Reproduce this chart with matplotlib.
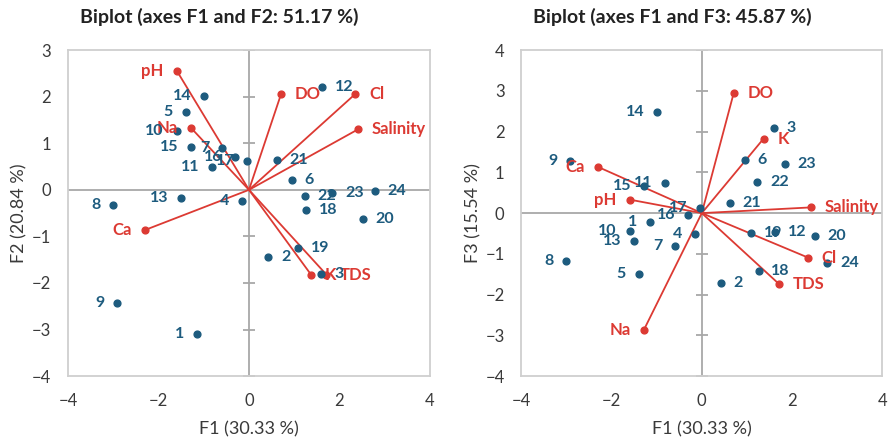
import matplotlib
matplotlib.use("Agg")
import matplotlib.pyplot as plt
import numpy as np

plt.rcParams['font.family'] = ['Lato', 'DejaVu Sans']

# observations (sites 1..24)
obs = [str(i) for i in range(1, 25)]
obs_f1 = [-1.15, 0.43, 1.60, -0.16, -1.40, 0.95, -0.59, -3.00, -2.92, -1.60, -0.82, 1.62,
          -1.51, -0.99, -1.28, -0.30, -0.04, 1.26, 1.09, 2.51, 0.62, 1.23, 1.84, 2.78]
obs_f2 = [-3.09, -1.44, -1.81, -0.25, 1.68, 0.21, 0.89, -0.33, -2.43, 1.27, 0.50, 2.21,
          -0.18, 2.02, 0.93, 0.70, 0.63, -0.43, -1.25, -0.62, 0.64, -0.13, -0.07, -0.03]
obs_f3 = [-0.22, -1.72, 2.10, -0.51, -1.50, 1.30, -0.81, -1.18, 1.28, -0.45, 0.73, -0.47,
          -0.69, 2.48, 0.67, -0.04, 0.13, -1.42, -0.48, -0.57, 0.26, 0.77, 1.20, -1.22]

# variables
var = ['pH', 'Na', 'Ca', 'DO', 'Cl', 'Salinity', 'K', 'TDS']
var_f1 = [-1.59, -1.28, -2.29, 0.71, 2.35, 2.41, 1.37, 1.71]
var_f2 = [2.55, 1.33, -0.86, 2.06, 2.06, 1.30, -1.82, -1.82]
var_f3 = [0.33, -2.86, 1.13, 2.96, -1.09, 0.14, 1.83, -1.74]

blue = '#1d5b7e'
red = '#dc3a33'
grey = '#a8a8a8'
txt = '#3a3a3a'

fig = plt.figure(figsize=(8.94, 4.44), dpi=100)
ax1 = fig.add_axes([0.076, 0.153, 0.405, 0.734])
ax2 = fig.add_axes([0.583, 0.153, 0.404, 0.734])


def biplot(ax, ox, oy, vx, vy, ylim, ylabel):
    ax.set_xlim(-4, 4)
    ax.set_ylim(*ylim)
    ax.axhline(0, color=grey, lw=1.3, zorder=1)
    ax.axvline(0, color=grey, lw=1.3, zorder=1)
    yt = np.arange(ylim[0], ylim[1] + 1)
    yt = yt[yt != 0]
    ax.plot(np.zeros(len(yt)), yt, ls='none', marker='_', ms=9, mew=1.3, color=grey, zorder=1)
    for s in ax.spines.values():
        s.set_color('#cfcfcf')
        s.set_linewidth(1.3)
    ax.set_xticks(range(-4, 5, 2))
    ax.set_yticks(range(ylim[0], ylim[1] + 1))
    ax.tick_params(length=0, labelsize=12, labelcolor=txt, pad=12)
    ax.set_xlabel('F1 (30.33 %)', fontsize=13, color=txt, labelpad=9)
    ax.set_ylabel(ylabel, fontsize=13, color=txt, labelpad=3)

    for x, y in zip(vx, vy):
        ax.plot([0, x], [0, y], color=red, lw=1.3, zorder=2)
    ax.scatter(vx, vy, s=24, color=red, zorder=3)
    for name, x, y in zip(var, vx, vy):
        ha = 'right' if x < 0 else 'left'
        dx = -0.3 if x < 0 else 0.3
        ax.text(x + dx, y, name, ha=ha, va='center', color=red,
                fontsize=12, fontweight='bold', zorder=4)

    ax.scatter(ox, oy, s=24, color=blue, zorder=3)
    for name, x, y in zip(obs, ox, oy):
        ha = 'right' if x < 0 else 'left'
        dx = -0.28 if x < 0 else 0.28
        ax.text(x + dx, y, name, ha=ha, va='center', color=blue,
                fontsize=11.5, fontweight='bold', zorder=4)


biplot(ax1, obs_f1, obs_f2, var_f1, var_f2, (-4, 3), 'F2 (20.84 %)')
biplot(ax2, obs_f1, obs_f3, var_f1, var_f3, (-4, 4), 'F3 (15.54 %)')

fig.text(219 / 894, 1 - 17 / 444, 'Biplot (axes F1 and F2: 51.17 %)', ha='center', va='center',
         fontsize=14, fontweight='bold', color='#222222')
fig.text(672 / 894, 1 - 17 / 444, 'Biplot (axes F1 and F3: 45.87 %)', ha='center', va='center',
         fontsize=14, fontweight='bold', color='#222222')

fig.savefig('out.png', dpi=100)
